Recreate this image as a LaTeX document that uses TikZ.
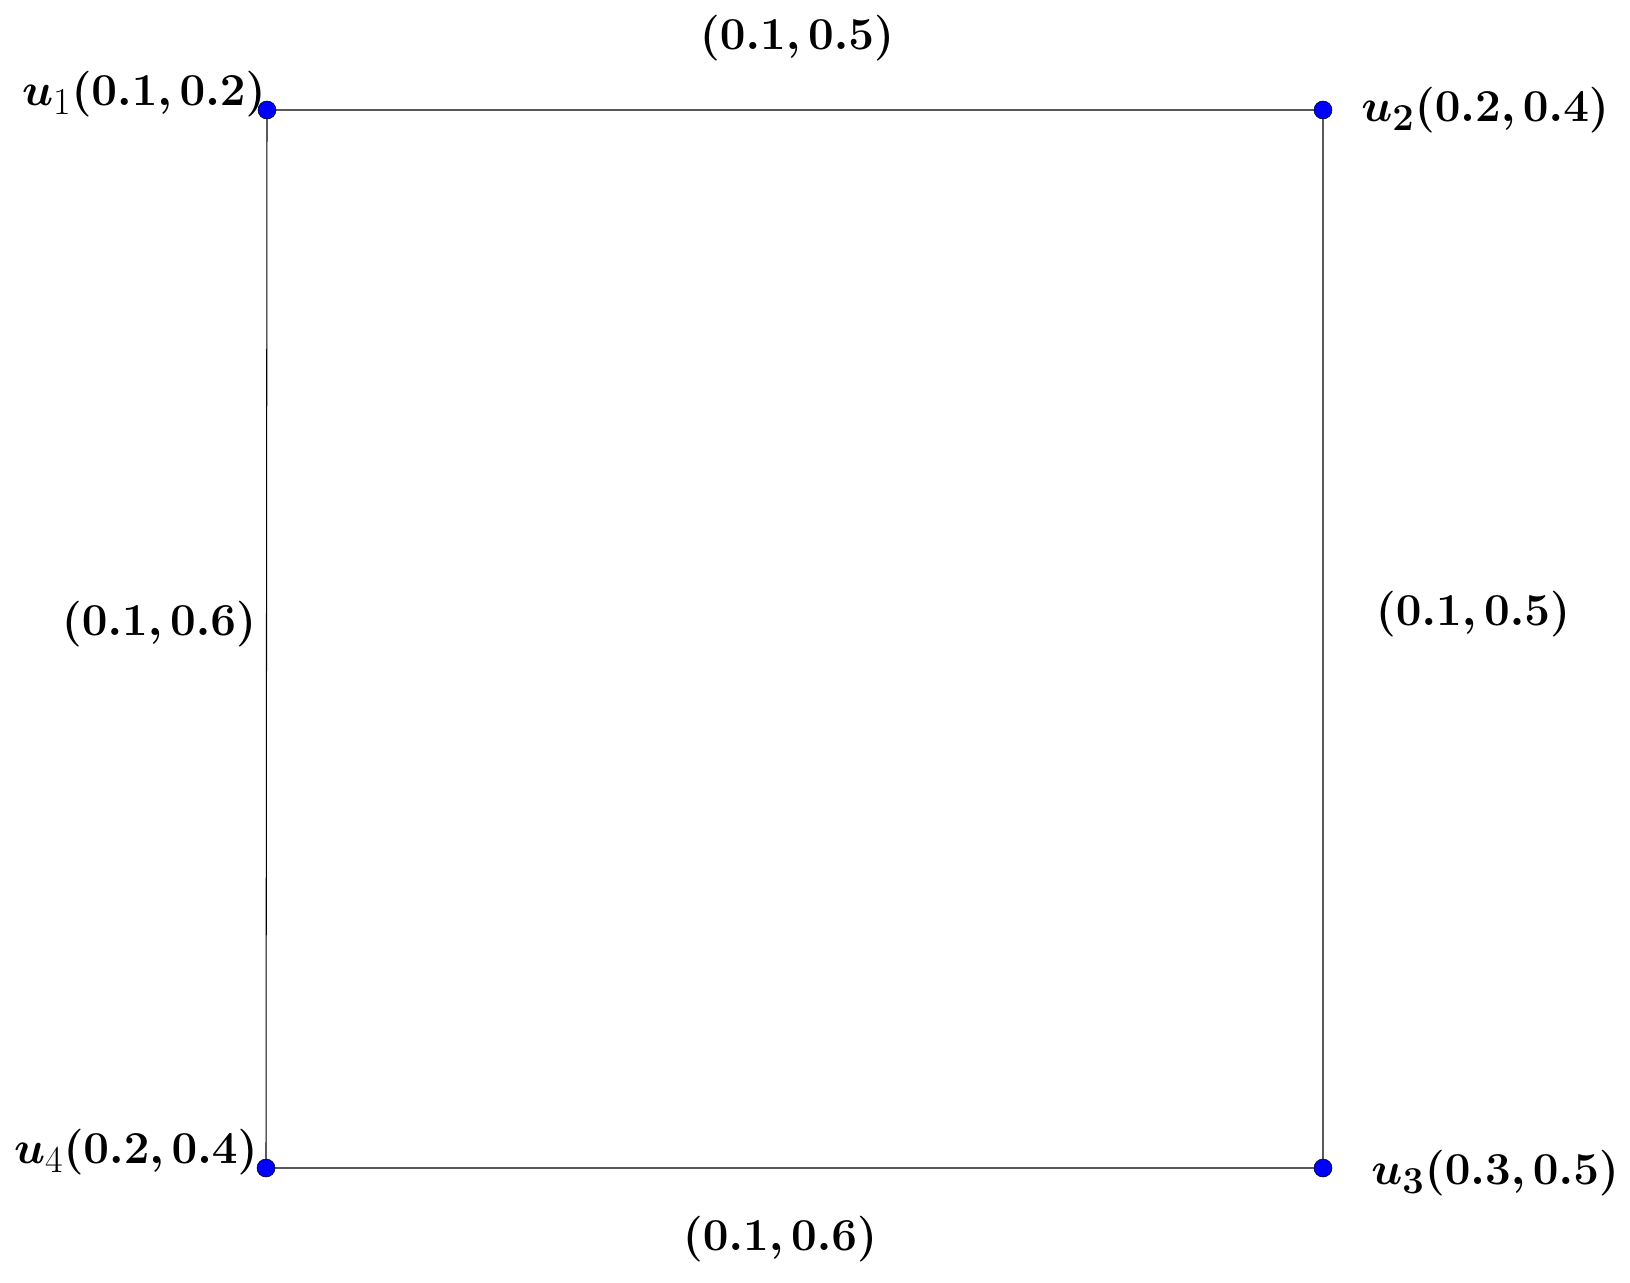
\documentclass[tikz,border=0pt]{standalone}
\usepackage{graphicx}
\usepackage{amsmath}
\usepackage{bm}
\newcommand{\lb}[1]{\scalebox{1.045}{$#1$}}
\begin{document}
\begin{tikzpicture}[x=0.02cm,y=-0.02cm,
  vdot/.style={circle,draw=black,line width=0.3pt,fill=blue,inner sep=0pt,minimum size=0.36cm},
  lbl/.style={font=\fontsize{24.88}{30}\selectfont,inner sep=0pt},
  edge/.style={draw=black,line width=0.6pt}]
\useasboundingbox (0,0) rectangle (1630,1282);
\coordinate (p1) at (267,110);
\coordinate (p2) at (1323,110);
\coordinate (p3) at (1323,1168);
\coordinate (p4) at (266,1168);
\draw[edge] (p1) -- (p2) -- (p3) -- (p4) -- cycle;
\node[vdot] (u1) at (p1) {};
\node[vdot] (u2) at (p2) {};
\node[vdot] (u3) at (p3) {};
\node[vdot] (u4) at (p4) {};
\node[lbl,anchor=east] (l1) at (266,94) {\lb{\bm{u}_1\bm{(0.1,0.2)}}};
\node[lbl,anchor=west] (l2) at (1361,110) {\lb{\bm{u_2(0.2,0.4)}}};
\node[lbl,anchor=west] (l3) at (1371,1173) {\lb{\bm{u_3(0.3,0.5)}}};
\node[lbl,anchor=east] (l4) at (258,1152) {\lb{\bm{u}_4\bm{(0.2,0.4)}}};
\node[lbl] (e12) at (797,38) {\lb{\bm{(0.1,0.5)}}};
\node[lbl] (e23) at (1473,614) {\lb{\bm{(0.1,0.5)}}};
\node[lbl] (e34) at (780,1239) {\lb{\bm{(0.1,0.6)}}};
\node[lbl] (e41) at (159,624) {\lb{\bm{(0.1,0.6)}}};
\end{tikzpicture}
\end{document}
